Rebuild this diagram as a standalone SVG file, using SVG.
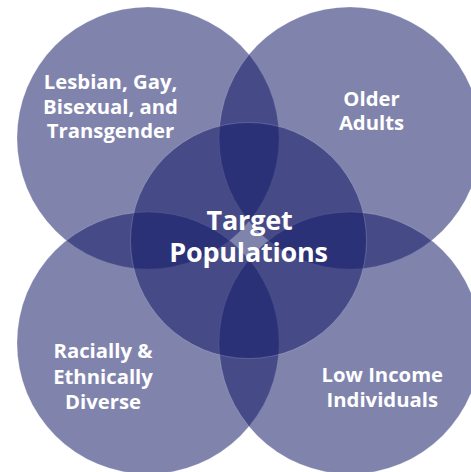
<svg xmlns="http://www.w3.org/2000/svg" width="471" height="472" viewBox="0 0 471 472">
  <style>
    .c { fill: #141c68; fill-opacity: 0.54; stroke: #ffffff; stroke-opacity: 0.3; stroke-width: 0.6; }
    .t { fill: #ffffff; font-family: "Open Sans", "Noto Sans", "DejaVu Sans", sans-serif; font-weight: bold; text-anchor: middle; }
    .s { font-size: 20.3px; }
    .b { font-size: 27px; letter-spacing: -0.2px; }
  </style>
  <rect x="0" y="0" width="471" height="472" fill="#ffffff"/>
  <g id="connectors"/>
  <g id="lgbt">
    <circle class="c" cx="148" cy="138" r="131"/>
    <text class="t s" x="110.5" y="88.5">Lesbian, Gay,</text>
    <text class="t s" x="110.5" y="113.5">Bisexual, and</text>
    <text class="t s" x="110.5" y="138">Transgender</text>
  </g>
  <g id="older-adults">
    <circle class="c" cx="350" cy="138" r="131"/>
    <text class="t s" x="371.5" y="106">Older</text>
    <text class="t s" x="371.5" y="130">Adults</text>
  </g>
  <g id="racially-diverse">
    <circle class="c" cx="148" cy="343" r="131"/>
    <text class="t s" x="103" y="358.3">Racially &amp;</text>
    <text class="t s" x="103" y="384">Ethnically</text>
    <text class="t s" x="103" y="409">Diverse</text>
  </g>
  <g id="low-income">
    <circle class="c" cx="350" cy="343" r="131"/>
    <text class="t s" x="382.3" y="381.5">Low Income</text>
    <text class="t s" x="382.3" y="406.5">Individuals</text>
  </g>
  <g id="target-populations">
    <circle class="c" cx="248.5" cy="240.5" r="118"/>
    <text class="t b" x="249.5" y="230">Target</text>
    <text class="t b" x="248.5" y="262">Populations</text>
  </g>
</svg>
